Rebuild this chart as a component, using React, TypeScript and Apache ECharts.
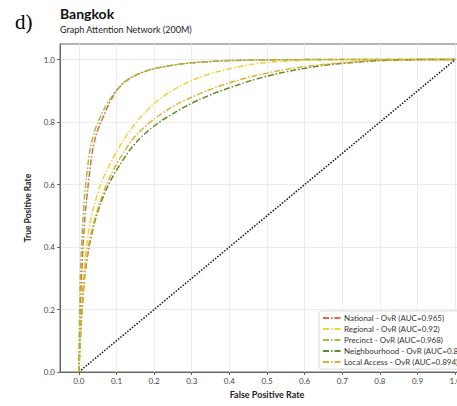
import React, { useEffect, useRef } from "react";
import * as echarts from "echarts";

const xTicks = [0, 0.1, 0.2, 0.3, 0.4, 0.5, 0.6, 0.7, 0.8, 0.9, 1.0];
const yTicks = [0, 0.2, 0.4, 0.6, 0.8, 1.0];

const seriesNames = [
  "National - OvR (AUC=0.965)",
  "Regional - OvR (AUC=0.92)",
  "Precinct - OvR (AUC=0.968)",
  "Neighbourhood - OvR (AUC=0.884)",
  "Local Access - OvR (AUC=0.894)",
];
const seriesColors = ["#e8673c", "#f2d13c", "#96c340", "#5f8c2c", "#e6ad36"];

const national = [
  [0, 0], [0.003, 0.15], [0.007, 0.3], [0.012, 0.42], [0.018, 0.52], [0.025, 0.6],
  [0.035, 0.7], [0.045, 0.755], [0.055, 0.79], [0.068, 0.825], [0.08, 0.858],
  [0.09, 0.88], [0.1, 0.9], [0.12, 0.927], [0.14, 0.943], [0.16, 0.955],
  [0.19, 0.968], [0.22, 0.976], [0.26, 0.984], [0.3, 0.99], [0.35, 0.994],
  [0.4, 0.997], [0.5, 0.999], [0.6, 1.0], [1.0, 1.0],
];
const regional = [
  [0, 0], [0.005, 0.15], [0.012, 0.3], [0.02, 0.4], [0.03, 0.48], [0.04, 0.53],
  [0.055, 0.59], [0.07, 0.635], [0.087, 0.675], [0.1, 0.705], [0.12, 0.745],
  [0.14, 0.78], [0.16, 0.81], [0.19, 0.848], [0.21, 0.87], [0.24, 0.895],
  [0.28, 0.922], [0.32, 0.943], [0.37, 0.962], [0.42, 0.976], [0.46, 0.985],
  [0.52, 0.993], [0.6, 0.998], [0.7, 1.0], [1.0, 1.0],
];
const precinct = [
  [0, 0], [0.002, 0.2], [0.005, 0.35], [0.01, 0.47], [0.015, 0.56], [0.02, 0.62],
  [0.028, 0.7], [0.04, 0.765], [0.05, 0.797], [0.06, 0.824], [0.07, 0.848],
  [0.08, 0.868], [0.09, 0.886], [0.1, 0.902], [0.12, 0.927], [0.14, 0.943],
  [0.16, 0.955], [0.19, 0.968], [0.22, 0.976], [0.26, 0.984], [0.3, 0.99],
  [0.35, 0.994], [0.4, 0.997], [0.5, 0.999], [0.6, 1.0], [1.0, 1.0],
];
const neighbourhood = [
  [0, 0], [0.006, 0.15], [0.015, 0.3], [0.027, 0.4], [0.042, 0.48], [0.058, 0.54],
  [0.075, 0.59], [0.09, 0.625], [0.11, 0.665], [0.135, 0.71], [0.16, 0.745],
  [0.19, 0.778], [0.22, 0.805], [0.25, 0.827], [0.28, 0.848], [0.32, 0.872],
  [0.37, 0.897], [0.42, 0.918], [0.46, 0.934], [0.52, 0.953], [0.59, 0.97],
  [0.66, 0.983], [0.74, 0.992], [0.82, 0.998], [0.9, 1.0], [1.0, 1.0],
];
const localAccess = [
  [0, 0], [0.006, 0.15], [0.015, 0.3], [0.025, 0.4], [0.04, 0.48], [0.055, 0.54],
  [0.07, 0.59], [0.087, 0.635], [0.1, 0.665], [0.12, 0.705], [0.14, 0.74],
  [0.16, 0.768], [0.18, 0.79], [0.2, 0.81], [0.23, 0.835], [0.26, 0.857],
  [0.3, 0.88], [0.34, 0.9], [0.38, 0.918], [0.42, 0.933], [0.46, 0.946],
  [0.52, 0.962], [0.59, 0.976], [0.66, 0.986], [0.74, 0.994], [0.82, 0.999],
  [0.9, 1.0], [1.0, 1.0],
];
const chance = [[0, 0], [1, 1]];

const curves = [national, regional, precinct, neighbourhood, localAccess];

const FONT = "Lato";

export default function App() {
  const ref = useRef<HTMLDivElement>(null);
  useEffect(() => {
    if (!ref.current) return;
    const chart = echarts.init(ref.current, null, { renderer: "svg" });
    const lineSeries = curves.map((data, i) => ({
      name: seriesNames[i],
      type: "line",
      data,
      symbol: "none",
      smooth: 0.2,
      color: seriesColors[i],
      lineStyle: { width: 1.5, type: [6, 2, 1.5, 2], color: seriesColors[i] },
      z: 3,
    }));
    chart.setOption({
      animation: false,
      backgroundColor: "#ffffff",
      textStyle: { fontFamily: FONT },
      title: [
        {
          text: "Bangkok",
          left: 60,
          top: 6,
          padding: 0,
          textStyle: { fontFamily: FONT, fontSize: 14, fontWeight: "bold", color: "#111" },
        },
        {
          text: "Graph Attention Network (200M)",
          left: 60,
          top: 25,
          padding: 0,
          textStyle: { fontFamily: FONT, fontSize: 9, fontWeight: "normal", color: "#222" },
        },
      ],
      graphic: [
        {
          type: "text",
          left: 15,
          top: 11,
          style: { text: "d)", font: "21px 'Liberation Serif', serif", fill: "#000" },
        },
      ],
      grid: {
        left: 60,
        top: 44,
        right: 26,
        bottom: 34,
        show: true,
        borderColor: "#666",
        borderWidth: 1,
        backgroundColor: "transparent",
      },
      xAxis: {
        type: "value",
        min: -0.05,
        max: 1.05,
        name: "False Positive Rate",
        nameLocation: "middle",
        nameGap: 16,
        nameTextStyle: { fontFamily: FONT, fontSize: 9, fontWeight: "bold", color: "#222" },
        axisLine: { show: true, onZero: false, lineStyle: { color: "#666", width: 1 } },
        axisTick: { show: true, length: 3, customValues: xTicks, lineStyle: { color: "#666" } },
        axisLabel: {
          customValues: xTicks,
          formatter: (v: number) => v.toFixed(1),
          fontSize: 8,
          color: "#444",
          margin: 5,
          fontFamily: FONT,
        },
        splitLine: { show: true, lineStyle: { color: "#ececec", width: 1 } },
      },
      yAxis: {
        type: "value",
        min: 0,
        max: 1.05,
        name: "True Positive Rate",
        nameLocation: "middle",
        nameGap: 21,
        nameTextStyle: { fontFamily: FONT, fontSize: 8.5, fontWeight: "bold", color: "#222" },
        axisLine: { show: true, onZero: false, lineStyle: { color: "#666", width: 1 } },
        axisTick: { show: true, length: 3, customValues: yTicks, lineStyle: { color: "#666" } },
        axisLabel: {
          customValues: yTicks,
          formatter: (v: number) => v.toFixed(1),
          fontSize: 8,
          color: "#444",
          margin: 5,
          fontFamily: FONT,
        },
        splitLine: { show: true, lineStyle: { color: "#ececec", width: 1 } },
      },
      legend: {
        orient: "vertical",
        left: 319,
        top: 311,
        data: seriesNames,
        itemWidth: 18,
        itemHeight: 8,
        itemGap: 3,
        padding: [3, 5, 3, 3],
        backgroundColor: "rgba(255,255,255,0.9)",
        borderColor: "#dddddd",
        borderWidth: 1,
        borderRadius: 2,
        itemStyle: { opacity: 0 },
        textStyle: { fontFamily: FONT, fontSize: 8, color: "#333", padding: [0, 0, 0, -2] },
      },
      series: [
        ...lineSeries,
        {
          name: "chance",
          type: "line",
          data: chance,
          symbol: "none",
          color: "#111",
          lineStyle: { width: 1.5, type: [1.5, 1.5], color: "#111" },
          z: 2,
        },
      ],
    });
    return () => chart.dispose();
  }, []);
  return (
    <div
      style={{
        position: "fixed",
        left: 0,
        top: 0,
        width: 457,
        height: 406,
        overflow: "hidden",
        background: "#fff",
      }}
    >
      <div ref={ref} style={{ width: 500, height: 406 }} />
    </div>
  );
}
